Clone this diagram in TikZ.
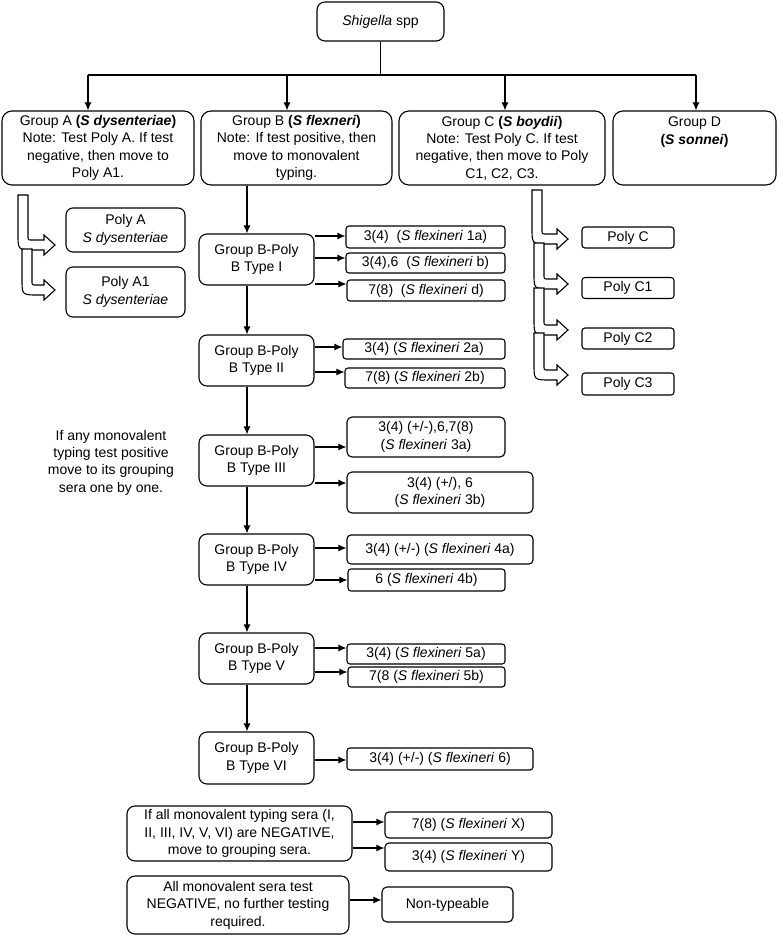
\documentclass[tikz,border=0pt]{standalone}
\usepackage{fontspec}
\setmainfont{Liberation Sans}
\usetikzlibrary{arrows.meta}

\newcommand{\bendarrow}[4]{%
  \draw[fill=white] (#1-5,#2) -- (#1-5,#3-11) .. controls (#1-5,#3+5) .. (#1+11,#3+5)
    -- (#4-11,#3+5) -- (#4-11,#3+10) -- (#4,#3) -- (#4-11,#3-10) -- (#4-11,#3-5)
    -- (#1+9,#3-5) .. controls (#1+5,#3-5) .. (#1+5,#3-9) -- (#1+5,#2) -- cycle;}

\begin{document}
\begin{tikzpicture}[x=1pt,y=-1pt,line width=1.1pt,
    every node/.style={font=\fontsize{14}{17.4}\selectfont},
    box/.style={draw,rounded corners=#1,align=center,inner sep=1pt},
    box/.default=8pt,
    flow/.style={-{Latex[length=8pt,width=7pt]}}]
    \useasboundingbox (0,0) rectangle (777,936);
    \node[box,minimum width=127,minimum height=39] (shig) at (380.5,21.5) {\textit{Shigella} spp};

    \node[box=10pt,minimum width=192,minimum height=74] (ga) at (98,148)
      {Group A \textbf{(\textit{S dysenteriae})}\\Note: Test Poly A. If test\\negative, then move to\\Poly A1.};
    \node[box=10pt,minimum width=191,minimum height=74] (gb) at (296.5,148)
      {Group B \textbf{(\textit{S flexneri})}\\Note: If test positive, then\\move to monovalent\\typing.};
    \node[box=10pt,minimum width=206,minimum height=74] (gc) at (502,148)
      {Group C \textbf{(\textit{S boydii})}\\Note: Test Poly C. If test\\negative, then move to Poly\\C1, C2, C3.};
    \node[box=10pt,minimum width=163,minimum height=74] (gd) at (694.5,148)
      {Group D\\\textbf{(\textit{S sonnei})}\\~\\~};

    \coordinate (bus) at (380.5,75);
    \coordinate (busA) at (88,75);
    \coordinate (busB) at (287,75);
    \coordinate (busC) at (505,75);
    \coordinate (busD) at (696,75);
    \draw (shig.south) -- (bus);
    \draw (busA) -- (busD);
    \foreach \b/\g in {busA/ga,busB/gb,busC/gc,busD/gd}
      \draw[flow] (\b) -- (\b |- \g.north);

    \node[box=7pt,minimum width=119,minimum height=44] (pa) at (125.5,230) {Poly A\\\textit{S dysenteriae}};
    \node[box=7pt,minimum width=119,minimum height=50] (pa1) at (125.5,292) {Poly A1\\\textit{S dysenteriae}};
    \bendarrow{23}{195}{245}{55}
    \bendarrow{27}{249}{290}{55}

    \node[box=3pt,minimum width=92,minimum height=21] (pc) at (628,237.5) {Poly C};
    \node[box=3pt,minimum width=92,minimum height=21] (pc1) at (628,288) {Poly C1};
    \node[box=3pt,minimum width=92,minimum height=21] (pc2) at (628,338.5) {Poly C2};
    \node[box=3pt,minimum width=92,minimum height=22] (pc3) at (628,384) {Poly C3};
    \bendarrow{537}{190}{239}{568}
    \bendarrow{539}{243}{284}{568}
    \bendarrow{539}{288}{330}{568}
    \bendarrow{539}{333}{375}{568}

    \node[box,minimum width=115,minimum height=51] (t1) at (256.5,259.5) {Group B-Poly\\B Type I};
    \node[box,minimum width=115,minimum height=51] (t2) at (256.5,360.5) {Group B-Poly\\B Type II};
    \node[box,minimum width=115,minimum height=51] (t3) at (256.5,460.5) {Group B-Poly\\B Type III};
    \node[box,minimum width=115,minimum height=51] (t4) at (256.5,559.5) {Group B-Poly\\B Type IV};
    \node[box,minimum width=115,minimum height=51] (t5) at (256.5,658.5) {Group B-Poly\\B Type V};
    \node[box,minimum width=115,minimum height=52] (t6) at (256.5,758) {Group B-Poly\\B Type VI};

    \coordinate (spine) at (247,0);
    \foreach \a/\b in {gb/t1,t1/t2,t2/t3,t3/t4,t4/t5,t5/t6}
      \draw[flow] (spine |- \a.south) -- (spine |- \b.north);

    \node[box=3pt,minimum width=159,minimum height=22] (r1a) at (425.5,237) {3(4)\ \ (\textit{S flexineri} 1a)};
    \node[box=3pt,minimum width=159,minimum height=20] (r1b) at (425.5,263) {3(4),6\ \ (\textit{S flexineri} b)};
    \node[box=3pt,minimum width=158,minimum height=21] (r1d) at (426,290.5) {7(8)\ \ (\textit{S flexineri} d)};
    \node[box=3pt,minimum width=162,minimum height=20] (r2a) at (424,349) {3(4) (\textit{S flexineri} 2a)};
    \node[box=3pt,minimum width=160,minimum height=20] (r2b) at (425,378) {7(8) (\textit{S flexineri} 2b)};
    \node[box=5pt,minimum width=158,minimum height=40] (r3a) at (426,437) {3(4) (+/-),6,7(8)\\(\textit{S flexineri} 3a)};
    \node[box=5pt,minimum width=186,minimum height=41] (r3b) at (440,492.5) {3(4) (+/), 6\\(\textit{S flexineri} 3b)};
    \node[box=4pt,minimum width=186,minimum height=29] (r4a) at (440,549.5) {3(4) (+/-) (\textit{S flexineri} 4a)};
    \node[box=3pt,minimum width=157,minimum height=22] (r4b) at (426.5,580) {6 (\textit{S flexineri} 4b)};
    \node[box=3pt,minimum width=158,minimum height=20] (r5a) at (426,654) {3(4) (\textit{S flexineri} 5a)};
    \node[box=3pt,minimum width=157,minimum height=20] (r5b) at (426.5,677) {7(8 (\textit{S flexineri} 5b)};
    \node[box=3pt,minimum width=186,minimum height=22] (r6) at (440,759) {3(4) (+/-) (\textit{S flexineri} 6)};

    \node[align=center] (hint) at (111,462.5) {If any monovalent\\typing test positive\\move to its grouping\\sera one by one.};

    \node[box,minimum width=225,minimum height=55] (n1) at (239.5,833.5)
      {If all monovalent typing sera (I,\\II, III, IV, V, VI) are NEGATIVE,\\move to grouping sera.};
    \node[box,minimum width=222,minimum height=58] (n2) at (238,905)
      {All monovalent sera test\\NEGATIVE, no further testing\\required.};
    \node[box=4pt,minimum width=167,minimum height=26] (rx) at (468.5,825) {7(8) (\textit{S flexineri} X)};
    \node[box=4pt,minimum width=167,minimum height=28] (ry) at (468.5,857) {3(4) (\textit{S flexineri} Y)};
    \node[box=5pt,minimum width=131,minimum height=35] (nt) at (447.5,904.5) {Non-typeable};

    \foreach \t/\r/\d in {t1/r1a/23.5,t1/r1b/1.5,t1/r1d/-24.5,t2/r2a/13.5,t2/r2b/-11.5,
        t3/r3a/13.5,t3/r3b/-22.5,t4/r4a/11.5,t4/r4b/-20.5,t5/r5a/10.5,t5/r5b/-13.5,
        t6/r6/-2,n1/rx/11.5,n1/ry/-14.5,n2/nt/5}
      \draw[flow] ([yshift=\d]\t.east) coordinate (tip) -- (tip -| \r.west);
\end{tikzpicture}
\end{document}
